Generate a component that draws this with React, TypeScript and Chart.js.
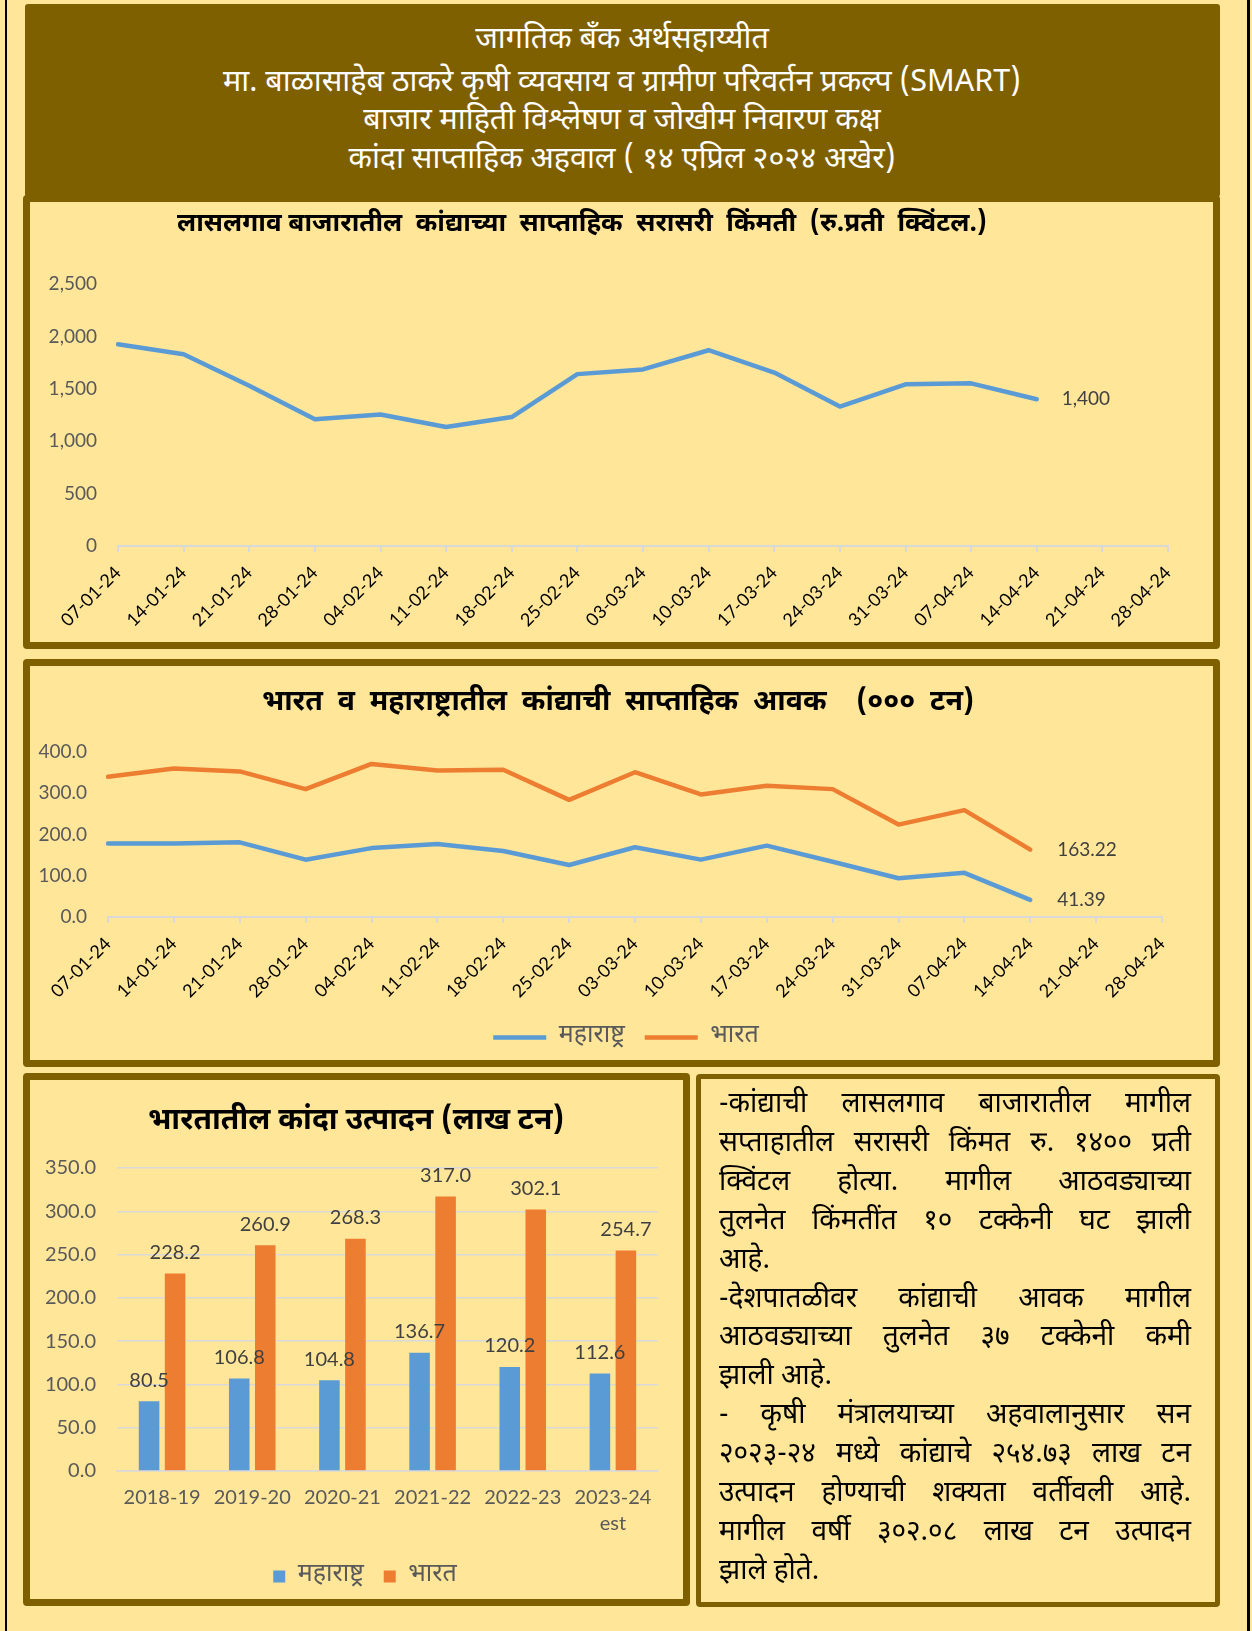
import React, { useEffect, useRef } from "react";
import { Chart, registerables } from "chart.js";

Chart.register(...registerables);

// ---------------- data ----------------
const weekLabels = [
  "07-01-24", "14-01-24", "21-01-24", "28-01-24", "04-02-24", "11-02-24",
  "18-02-24", "25-02-24", "03-03-24", "10-03-24", "17-03-24", "24-03-24",
  "31-03-24", "07-04-24", "14-04-24", "21-04-24", "28-04-24",
];
const lasalgaonPrice = [
  1925, 1830, 1530, 1210, 1255, 1135, 1230, 1640, 1685, 1868, 1655, 1330,
  1543, 1552, 1400, null, null,
];
const priceAxis = [0, 2500, 500];

const mhArrivals = [
  178, 178, 181, 139, 167, 177, 160, 126, 169, 139, 173, 134, 94, 107, 41.39,
  null, null,
];
const indiaArrivals = [
  340, 360, 353, 310, 371, 355, 357, 284, 351, 297, 318, 310, 224, 259, 163.22,
  null, null,
];
const arrivalAxis = [0, 400, 100];

const productionYears = [
  "2018-19", "2019-20", "2020-21", "2021-22", "2022-23", ["2023-24", "est"],
];
const mhProduction = [80.5, 106.8, 104.8, 136.7, 120.2, 112.6];
const indiaProduction = [228.2, 260.9, 268.3, 317.0, 302.1, 254.7];
const productionAxis = [0, 350, 50];

const seriesNames = ["महाराष्ट्र", "भारत"];

const headerLines = [
  "जागतिक बँक अर्थसहाय्यीत",
  "मा. बाळासाहेब ठाकरे कृषी व्यवसाय व ग्रामीण परिवर्तन प्रकल्प (SMART)",
  "बाजार माहिती विश्लेषण व जोखीम निवारण कक्ष",
  "कांदा साप्ताहिक अहवाल ( १४ एप्रिल २०२४ अखेर)",
];
const chartTitles = [
  "लासलगाव बाजारातील  कांद्याच्या  साप्ताहिक  सरासरी  किंमती  (रु.प्रती  क्विंटल.)",
  "भारत  व  महाराष्ट्रातील  कांद्याची  साप्ताहिक  आवक    (०००  टन)",
  "भारतातील कांदा उत्पादन (लाख टन)",
];
// [text, justified]
const noteLines: [string, boolean][] = [
  ["-कांद्याची लासलगाव बाजारातील मागील", true],
  ["सप्ताहातील सरासरी किंमत रु. १४००  प्रती", true],
  ["क्विंटल होत्या. मागील आठवड्याच्या", true],
  ["तुलनेत  किंमतींत १० टक्केनी  घट झाली", true],
  ["आहे.", false],
  ["-देशपातळीवर कांद्याची आवक मागील", true],
  ["आठवड्याच्या  तुलनेत ३७ टक्केनी कमी", true],
  ["झाली आहे.", false],
  ["- कृषी मंत्रालयाच्या अहवालानुसार सन", true],
  ["२०२३-२४ मध्ये कांद्याचे २५४.७३  लाख टन", true],
  ["उत्पादन होण्याची शक्यता वर्तीवली आहे.", true],
  ["मागील वर्षी ३०२.०८ लाख टन उत्पादन", true],
  ["झाले होते.", false],
];

// ---------------- style ----------------
const BG = "#FFE699";
const OLIVE = "#7F6000";
const BLUE = "#5B9BD5";
const ORANGE = "#ED7D31";
const AXIS_GRAY = "#D9D9D9";
const LABEL_GRAY = "#595959";
const VALUE_GRAY = "#404040";
const NUM_FONT = "Lato, 'Noto Sans', sans-serif";
const DEV_FONT = "'Noto Sans Devanagari', 'Noto Sans', 'Lohit Devanagari', sans-serif";

Chart.defaults.font.family = NUM_FONT;

const valueLabelPlugin = {
  id: "valueLabels",
  afterDatasetsDraw(chart: any) {
    const ctx = chart.ctx;
    chart.data.datasets.forEach((ds: any, di: number) => {
      const cfg = ds.valueLabels;
      if (!cfg) return;
      const meta = chart.getDatasetMeta(di);
      let last = -1;
      ds.data.forEach((d: any, j: number) => {
        if (d != null) last = j;
      });
      ctx.save();
      ctx.font = cfg.font;
      ctx.fillStyle = cfg.color;
      ctx.textBaseline = "middle";
      meta.data.forEach((el: any, i: number) => {
        const v = ds.data[i];
        if (v == null) return;
        if (cfg.mode === "last") {
          if (i !== last) return;
          ctx.textAlign = "left";
          ctx.fillText(cfg.format(v), el.x + cfg.offset, el.y);
        } else {
          ctx.textAlign = "center";
          ctx.fillText(cfg.format(v), el.x, el.y - cfg.offset);
        }
      });
      ctx.restore();
    });
  },
};

// shifts the (horizontal) legend box sideways after layout
function legendShift(dx: number) {
  return {
    id: "legendShift",
    afterLayout(chart: any) {
      const l = chart.legend;
      if (!l) return;
      l.left += dx;
      l.right += dx;
    },
  };
}

function useChart(config: any) {
  const ref = useRef<HTMLCanvasElement | null>(null);
  useEffect(() => {
    if (!ref.current) return;
    const chart = new Chart(ref.current, config);
    return () => chart.destroy();
  }, []);
  return ref;
}

function lineXAxis(height: number, fontSize: number) {
  return {
    type: "category",
    offset: false,
    grid: {
      display: true,
      drawOnChartArea: false,
      drawTicks: true,
      tickLength: 6,
      color: AXIS_GRAY,
      lineWidth: 2,
    },
    border: { display: true, color: AXIS_GRAY, width: 2 },
    ticks: {
      autoSkip: false,
      maxRotation: 45,
      minRotation: 45,
      color: "#000000",
      padding: 10,
      font: { size: fontSize, family: NUM_FONT },
    },
    afterFit: (s: any) => {
      s.height = height;
    },
  };
}

function PriceChart() {
  const ref = useChart({
    type: "line",
    data: {
      labels: weekLabels,
      datasets: [
        {
          label: "लासलगाव",
          data: lasalgaonPrice,
          borderColor: BLUE,
          backgroundColor: BLUE,
          borderWidth: 4.5,
          pointRadius: 0,
          tension: 0,
          borderCapStyle: "round",
          borderJoinStyle: "round",
          valueLabels: {
            mode: "last",
            offset: 25,
            font: `19px ${NUM_FONT}`,
            color: VALUE_GRAY,
            format: (v: number) => v.toLocaleString("en-US"),
          },
        },
      ],
    },
    options: {
      responsive: false,
      animation: false,
      layout: { padding: { top: 82, right: 45, bottom: 0, left: 0 } },
      plugins: { legend: { display: false }, tooltip: { enabled: false } },
      scales: {
        x: lineXAxis(96, 18),
        y: {
          min: priceAxis[0],
          max: priceAxis[1],
          grid: { display: false, drawTicks: false },
          border: { display: false },
          ticks: {
            stepSize: priceAxis[2],
            color: LABEL_GRAY,
            padding: 21,
            font: { size: 19, family: NUM_FONT },
            callback: (v: any) => Number(v).toLocaleString("en-US"),
          },
          afterFit: (s: any) => {
            s.width = 88;
          },
        },
      },
    },
    plugins: [valueLabelPlugin],
  });
  return (
    <canvas
      ref={ref}
      width={1183}
      height={440}
      style={{ position: "absolute", left: 30, top: 202 }}
    />
  );
}

function ArrivalChart() {
  const ref = useChart({
    type: "line",
    data: {
      labels: weekLabels,
      datasets: [
        {
          label: seriesNames[0],
          data: mhArrivals,
          borderColor: BLUE,
          backgroundColor: BLUE,
          borderWidth: 4.5,
          pointRadius: 0,
          tension: 0,
          borderCapStyle: "round",
          borderJoinStyle: "round",
          valueLabels: {
            mode: "last",
            offset: 27,
            font: `19px ${NUM_FONT}`,
            color: VALUE_GRAY,
            format: (v: number) => String(v),
          },
        },
        {
          label: seriesNames[1],
          data: indiaArrivals,
          borderColor: ORANGE,
          backgroundColor: ORANGE,
          borderWidth: 4.5,
          pointRadius: 0,
          tension: 0,
          borderCapStyle: "round",
          borderJoinStyle: "round",
          valueLabels: {
            mode: "last",
            offset: 27,
            font: `19px ${NUM_FONT}`,
            color: VALUE_GRAY,
            format: (v: number) => String(v),
          },
        },
      ],
    },
    options: {
      responsive: false,
      animation: false,
      layout: { padding: { top: 86, right: 51, bottom: 0, left: 0 } },
      plugins: {
        tooltip: { enabled: false },
        legend: {
          display: true,
          position: "bottom",
          labels: {
            usePointStyle: true,
            pointStyle: "line",
            pointStyleWidth: 53,
            boxWidth: 53,
            padding: 20,
            color: LABEL_GRAY,
            font: { size: 25, family: DEV_FONT },
          },
        },
      },
      scales: {
        x: lineXAxis(88, 18),
        y: {
          min: arrivalAxis[0],
          max: arrivalAxis[1],
          grid: { display: false, drawTicks: false },
          border: { display: false },
          ticks: {
            stepSize: arrivalAxis[2],
            color: LABEL_GRAY,
            padding: 21,
            font: { size: 19, family: NUM_FONT },
            callback: (v: any) => Number(v).toFixed(1),
          },
          afterFit: (s: any) => {
            s.width = 78;
          },
        },
      },
    },
    plugins: [valueLabelPlugin, legendShift(30)],
  });
  return (
    <canvas
      ref={ref}
      width={1183}
      height={394}
      style={{ position: "absolute", left: 30, top: 666 }}
    />
  );
}

function ProductionChart() {
  const labelCfg = {
    mode: "above",
    offset: 21,
    font: `20px ${NUM_FONT}`,
    color: VALUE_GRAY,
    format: (v: number) => v.toFixed(1),
  };
  const ref = useChart({
    type: "bar",
    data: {
      labels: productionYears,
      datasets: [
        {
          label: seriesNames[0],
          data: mhProduction,
          backgroundColor: BLUE,
          categoryPercentage: 0.577,
          barPercentage: 0.79,
          valueLabels: labelCfg,
        },
        {
          label: seriesNames[1],
          data: indiaProduction,
          backgroundColor: ORANGE,
          categoryPercentage: 0.577,
          barPercentage: 0.79,
          valueLabels: labelCfg,
        },
      ],
    },
    options: {
      responsive: false,
      animation: false,
      layout: { padding: { top: 88, right: 25, bottom: 0, left: 0 } },
      plugins: {
        tooltip: { enabled: false },
        legend: {
          display: true,
          position: "bottom",
          labels: {
            boxWidth: 12,
            boxHeight: 12,
            padding: 20,
            color: LABEL_GRAY,
            font: { size: 25, family: DEV_FONT },
          },
        },
      },
      scales: {
        x: {
          grid: { display: false, drawTicks: false },
          border: { display: true, color: AXIS_GRAY, width: 1.5 },
          ticks: {
            color: LABEL_GRAY,
            padding: 13.5,
            font: { size: 20, family: NUM_FONT, lineHeight: 1.3 },
          },
          afterFit: (s: any) => {
            s.height = 73;
          },
        },
        y: {
          min: productionAxis[0],
          max: productionAxis[1],
          grid: { display: true, drawTicks: false, color: AXIS_GRAY, lineWidth: 1.5 },
          border: { display: false },
          ticks: {
            stepSize: productionAxis[2],
            color: LABEL_GRAY,
            padding: 21,
            font: { size: 20, family: NUM_FONT },
            callback: (v: any) => Number(v).toFixed(1),
          },
          afterFit: (s: any) => {
            s.width = 87;
          },
        },
      },
    },
    plugins: [valueLabelPlugin, legendShift(21)],
  });
  return (
    <canvas
      ref={ref}
      width={653}
      height={519}
      style={{ position: "absolute", left: 30, top: 1080 }}
    />
  );
}

function Box(props: {
  left: number;
  top: number;
  width: number;
  height: number;
  border: number;
}) {
  return (
    <div
      style={{
        position: "absolute",
        left: props.left,
        top: props.top,
        width: props.width,
        height: props.height,
        boxSizing: "border-box",
        border: `${props.border}px solid ${OLIVE}`,
        borderRadius: 4,
        background: BG,
      }}
    />
  );
}

function Title(props: { text: string; cx: number; cy: number; size: number }) {
  return (
    <div
      style={{
        position: "absolute",
        left: props.cx - 550,
        width: 1100,
        top: props.cy - 25,
        height: 50,
        lineHeight: "50px",
        textAlign: "center",
        fontFamily: DEV_FONT,
        fontWeight: 700,
        fontSize: props.size,
        color: "#000",
        whiteSpace: "pre",
      }}
    >
      {props.text}
    </div>
  );
}

export default function App() {
  const headerY = [41, 84, 122, 161];
  const noteTop = 1086;
  const noteLH = 38.9;
  return (
    <div
      style={{
        position: "absolute",
        left: 0,
        top: 0,
        width: 1252,
        height: 1631,
        background: BG,
        overflow: "hidden",
      }}
    >
      <div style={{ position: "absolute", left: 5, top: 0, width: 2, height: 1631, background: "#000" }} />
      <div style={{ position: "absolute", left: 1247, top: 0, width: 3, height: 1631, background: "#000" }} />

      {/* chart boxes */}
      <Box left={23} top={195} width={1197} height={454} border={7} />
      <Box left={23} top={659} width={1197} height={408} border={7} />
      <Box left={23} top={1073} width={667} height={533} border={7} />
      <Box left={696} top={1074} width={524} height={533} border={5} />

      {/* header */}
      <div
        style={{
          position: "absolute",
          left: 25,
          top: 4,
          width: 1195,
          height: 193,
          background: OLIVE,
          borderRadius: 3,
        }}
      />
      {headerLines.map((t, i) => (
        <div
          key={i}
          style={{
            position: "absolute",
            left: 72,
            width: 1100,
            top: headerY[i] - 22,
            height: 44,
            lineHeight: "44px",
            textAlign: "center",
            color: "#FFFFFF",
            fontFamily: DEV_FONT,
            fontSize: 30.5,
            whiteSpace: "pre",
          }}
        >
          {t}
        </div>
      ))}

      <PriceChart />
      <ArrivalChart />
      <ProductionChart />

      <Title text={chartTitles[0]} cx={582} cy={225} size={26} />
      <Title text={chartTitles[1]} cx={618} cy={703} size={28.5} />
      <Title text={chartTitles[2]} cx={356} cy={1122} size={30} />

      {noteLines.map(([t, just], i) => (
        <div
          key={i}
          style={{
            position: "absolute",
            left: 719,
            width: 472,
            top: noteTop + i * noteLH,
            height: noteLH,
            lineHeight: `${noteLH}px`,
            fontFamily: DEV_FONT,
            fontSize: 28,
            color: "#000",
            textAlign: just ? "justify" : "left",
            textAlignLast: just ? "justify" : "left",
            whiteSpace: "nowrap",
          }}
        >
          {t}
        </div>
      ))}
    </div>
  );
}
